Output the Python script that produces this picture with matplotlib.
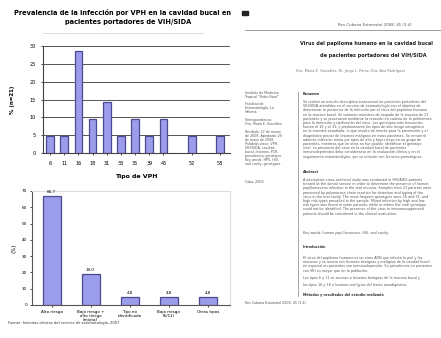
import textwrap
import numpy as np
import matplotlib
matplotlib.use('Agg')
import matplotlib.pyplot as plt

# datos del grafico superior (tipos de VPH, % de pacientes)
tipos = ['6', '11', '16', '18', '31', '33', '35', '39', '45', '', '52', '', '58']
porcentajes = [4.8, 4.8, 28.6, 9.5, 14.3, 4.8, 9.5, 4.8, 9.5, None, 4.8, None, 4.8]
yticks_sup = [0, 5, 10, 15, 20, 25, 30]

# datos del grafico inferior (grupos de riesgo)
grupos = ['Alto riesgo', 'Bajo riesgo +\nalto riesgo\n(mixta)', 'Tipo no\nidentificado',
          'Bajo riesgo\n(6/11)', 'Otros tipos']
valores = [66.7, 19.0, 4.8, 4.8, 4.8]
etiquetas = ['66,7', '19,0', '4,8', '4,8', '4,8']

titulo = ['Prevalencia de la infección por VPH en la cavidad bucal en',
          'pacientes portadores de VIH/SIDA']

W, H = 441, 338
fig = plt.figure(figsize=(W / 100, H / 100), dpi=100)
fig.patch.set_facecolor('white')


def rect(x0, y0, x1, y1):
    return [x0 / W, 1 - y1 / H, (x1 - x0) / W, (y1 - y0) / H]


def px(x, y):
    return x / W, 1 - y / H


barra = '#9c9cec'
borde = '#4a4a8e'

# titulo
fig.text(*px(122, 12), titulo[0], ha='center', va='center', fontsize=4.8, fontweight='bold')
fig.text(*px(128, 22), titulo[1], ha='center', va='center', fontsize=4.8, fontweight='bold')
fig.add_artist(plt.Line2D([43 / W, 203 / W], [1 - 33 / H, 1 - 33 / H], color='#d8d8c8', lw=0.6))

# grafico superior
ax1 = fig.add_axes(rect(43, 46, 230, 153))
xs = [i for i, v in enumerate(porcentajes) if v is not None]
vs = [v for v in porcentajes if v is not None]
ax1.bar(xs, vs, width=0.55, color=barra, edgecolor=borde, linewidth=0.9, zorder=3)
ax1.set_ylim(0, 30)
ax1.set_xlim(-0.5, 12.7)
ax1.set_yticks(yticks_sup)
ax1.set_yticklabels([str(t) for t in yticks_sup], fontsize=3.5)
ax1.set_xticks(xs)
ax1.set_xticklabels([tipos[i] for i in xs], fontsize=3.5)
ax1.grid(axis='y', color='#555555', lw=0.7, zorder=0)
for s in ['top', 'right']:
    ax1.spines[s].set_visible(False)
ax1.spines['left'].set_color('#444444')
ax1.spines['bottom'].set_color('#444444')
ax1.tick_params(axis='both', length=1.5, width=0.5, pad=4)
ax1.set_ylabel('% (n=21)', fontsize=4, fontweight='bold', labelpad=10)
ax1.set_xlabel('Tipo de VPH', fontsize=4.5, fontweight='bold', labelpad=6)

# grafico inferior
ax2 = fig.add_axes(rect(32, 191, 230, 305))
pos = np.arange(len(grupos))
ax2.bar(pos, valores, width=0.46, color=barra, edgecolor=borde, linewidth=0.9, zorder=3)
for p, v, t in zip(pos, valores, etiquetas):
    ax2.text(p, v + 1.5, t, ha='center', va='bottom', fontsize=3)
ax2.set_ylim(0, 70)
ax2.set_xlim(-0.5, 4.57)
ax2.set_yticks(range(0, 71, 10))
ax2.set_yticklabels([str(t) for t in range(0, 71, 10)], fontsize=3)
ax2.set_xticks(pos)
ax2.set_xticklabels(grupos, fontsize=3, linespacing=1.1)
for s in ['top', 'right']:
    ax2.spines[s].set_color('#dddddd')
ax2.spines['left'].set_color('#555555')
ax2.spines['bottom'].set_color('#555555')
ax2.tick_params(axis='both', length=1.5, width=0.5, pad=2)
ax2.set_ylabel('(%)', fontsize=4, labelpad=4)
fig.text(*px(8, 323), 'Fuente: historias clínicas del servicio de estomatología, 2007',
         fontsize=2.6, va='center', color='#333333')

# pagina del articulo (derecha)
gris = '#555555'
fig.add_artist(plt.Rectangle((242 / W, 1 - 15 / H), 6 / W, 4 / H, color='#222222'))
fig.text(*px(338, 25), 'Rev Cubana Estomatol 2008; 45 (3-4)', fontsize=2.8, va='center', color=gris)
fig.add_artist(plt.Line2D([245 / W, 1], [1 - 30 / H, 1 - 30 / H], color='#777777', lw=0.5))
fig.text(*px(300, 43), 'Virus del papiloma humano en la cavidad bucal',
         fontsize=3.6, fontweight='bold', va='center', color='#222222')
fig.text(*px(320, 55), 'de pacientes portadores del VIH/SIDA',
         fontsize=3.6, fontweight='bold', va='center', color='#222222')
fig.text(*px(296, 71), 'Dra. María E. González, Dr. Jorge L. Pérez, Dra. Ana Rodríguez',
         fontsize=2.5, va='center', color='#777777')

izq = [(93, 'Instituto de Medicina'), (97, 'Tropical "Pedro Kourí"'),
       (104, 'Facultad de'), (108, 'Estomatología, La'),
       (112, 'Habana'), (120, 'Correspondencia:'),
       (124, 'Dra. María E. González'), (132, 'Recibido: 12 de marzo'),
       (136, 'de 2008. Aprobado: 20'), (140, 'de mayo de 2008.'),
       (144, 'Palabras clave: VPH,'), (148, 'VIH/SIDA, cavidad'),
       (152, 'bucal, lesiones, PCR,'), (156, 'prevalencia, genotipos.'),
       (160, 'Key words: HPV, HIV,'), (164, 'oral cavity, genotypes.'),
       (182, 'Cuba, 2008')]
for y, t in izq:
    fig.text(*px(245, y), t, fontsize=2.3, va='center', color=gris)
fig.add_artist(plt.Line2D([298 / W, 298 / W], [1 - 92 / H, 1 - 296 / H], color='#999999', lw=0.6))

resumen = ('Se realizó un estudio descriptivo transversal en pacientes portadores del VIH/SIDA '
           'atendidos en el servicio de estomatología con el objetivo de determinar la presencia '
           'de la infección por el virus del papiloma humano en la mucosa bucal. Se tomaron '
           'muestras de raspado de la mucosa de 21 pacientes y se procesaron mediante la reacción '
           'en cadena de la polimerasa para la detección y tipificación del virus. Los genotipos '
           'más frecuentes fueron el 16 y el 31, y predominaron los tipos de alto riesgo oncogénico '
           'en la muestra estudiada, lo que resulta de interés para la prevención y el '
           'diagnóstico precoz de lesiones malignas en estos pacientes. Se encontró además '
           'infección mixta por tipos de alto y bajo riesgo en un grupo de pacientes, mientras que '
           'en otros no fue posible identificar el genotipo viral. La presencia del virus en la '
           'cavidad bucal de pacientes inmunodeprimidos debe considerarse en la evaluación clínica '
           'y en el seguimiento estomatológico, por su relación con lesiones premalignas.')
abstract = ('A descriptive cross-sectional study was conducted in HIV/AIDS patients treated at '
            'the dental service in order to determine the presence of human papillomavirus '
            'infection in the oral mucosa. Samples from 21 patients were processed by polymerase '
            'chain reaction for detection and typing of the virus in the oral cavity. The most '
            'frequent genotypes were 16 and 31, and high-risk types prevailed in the sample. '
            'Mixed infection by high and low risk types was found in some patients, while in '
            'others the viral genotype could not be identified. The presence of the virus in '
            'immunosuppressed patients should be considered in the clinical evaluation.')
intro = ('El virus del papiloma humano es un virus ADN que infecta la piel y las mucosas y se '
         'asocia con lesiones benignas y malignas de la cavidad bucal, en especial en pacientes '
         'con inmunodepresión. Su prevalencia en pacientes con VIH es mayor que en la población.')
ancho = 74
l_res = textwrap.wrap(resumen, ancho)
l_abs = textwrap.wrap(abstract, ancho)
l_int = textwrap.wrap(intro, ancho)

cuerpo = ([(94, 'Resumen', True)] + [(102 + 4.2 * i, t, False) for i, t in enumerate(l_res)] +
          [(172, 'Abstract', True)] + [(180 + 4.2 * i, t, False) for i, t in enumerate(l_abs)] +
          [(233, 'Key words: human papillomavirus, HIV, oral cavity.', False),
           (247, 'Introducción', True)] +
          [(258 + 4.2 * i, t, False) for i, t in enumerate(l_int)] +
          [(278, 'Los tipos 6 y 11 se asocian a lesiones benignas de la mucosa bucal y', False),
           (285, 'los tipos 16 y 18 a lesiones malignas del tracto aerodigestivo.', False),
           (295, 'Métodos y resultados del estudio realizado', True)])
for y, t, b in cuerpo:
    fig.text(*px(303, y), t, fontsize=2.4, va='center', color='#333333' if b else gris,
             fontweight='bold' if b else 'normal')
fig.text(*px(245, 303), 'Rev Cubana Estomatol 2008; 45 (3-4)', fontsize=2.3, va='center', color=gris)

fig.savefig('out.png', dpi=100)
